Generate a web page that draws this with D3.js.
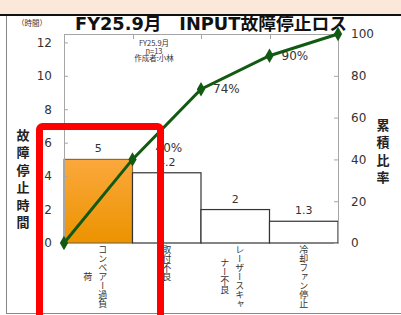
<!doctype html>
<html>
<head>
<meta charset="utf-8">
<style>
body { margin: 0; background: white; }
text { font-family: "DejaVu Sans", "Noto Sans CJK JP", sans-serif; }
.jp { font-family: "Noto Sans CJK JP", sans-serif; }
</style>
<script src="https://cdnjs.cloudflare.com/ajax/libs/d3/7.8.5/d3.min.js"></script>
</head>
<body>
<div id="chart"></div>
<script>
// data
var categories = ["コンベアー過負荷", "取付不良", "レーザースキャナー不良", "冷却ファン停止"];
var hours = [5, 4.2, 2, 1.3];
var leftTicks = [0, 2, 4, 6, 8, 10, 12];
var rightTicks = [0, 20, 40, 60, 80, 100];
var title = "FY25.9月　INPUT故障停止ロス";
var note = ["FY25.9月", "n=13", "作成者:小林"];

var width = 401, height = 315;
var plotL = 64, plotR = 338, plotT = 34, plotB = 243;

var svg = d3.select("#chart").append("svg")
  .attr("width", width).attr("height", height);

// page decoration
svg.append("rect").attr("x", 0).attr("y", 0).attr("width", width).attr("height", 14).attr("fill", "#FBE8D8");
svg.append("rect").attr("x", 0).attr("y", 14).attr("width", width).attr("height", 2).attr("fill", "#111");
svg.append("line").attr("x1", 6.5).attr("x2", 6.5).attr("y1", 16).attr("y2", 313.5).attr("stroke", "#888");
svg.append("line").attr("x1", 6).attr("x2", width).attr("y1", 313.5).attr("y2", 313.5).attr("stroke", "#888");

var total = d3.sum(hours);
var cum = [];
var run = 0;
hours.forEach(function(h) { run += h; cum.push(run / total * 100); });

var x = d3.scaleBand().domain(categories).range([plotL, plotR]).padding(0);
var yL = d3.scaleLinear().domain([0, total]).range([plotB, plotT]);
var yR = d3.scaleLinear().domain([0, 100]).range([plotB, plotT]);

var defs = svg.append("defs");
var grad = defs.append("linearGradient").attr("id", "org").attr("x1", 0).attr("y1", 0).attr("x2", 0).attr("y2", 1);
grad.append("stop").attr("offset", "0%").attr("stop-color", "#FBA83C");
grad.append("stop").attr("offset", "100%").attr("stop-color", "#EC9300");

// top frame line with category ticks
svg.append("line").attr("x1", plotL).attr("x2", plotR).attr("y1", plotT + 0.5).attr("y2", plotT + 0.5).attr("stroke", "#A6A6A6");
svg.selectAll(".ttick").data(categories.slice(1)).enter().append("line")
  .attr("x1", function(d) { return Math.round(x(d)) + 0.5; })
  .attr("x2", function(d) { return Math.round(x(d)) + 0.5; })
  .attr("y1", plotT).attr("y2", plotT + 5).attr("stroke", "#A6A6A6");

// bars
svg.selectAll(".bar").data(hours).enter().append("rect")
  .attr("x", function(d, i) { return x(categories[i]); })
  .attr("y", function(d) { return yL(d); })
  .attr("width", x.bandwidth())
  .attr("height", function(d) { return plotB - yL(d); })
  .attr("fill", function(d, i) { return i == 0 ? "url(#org)" : "white"; })
  .attr("stroke", function(d, i) { return i == 0 ? "#8A6A3A" : "#333"; })
  .attr("stroke-width", 1.2);

svg.selectAll(".blab").data(hours).enter().append("text")
  .attr("x", function(d, i) { return x(categories[i]) + x.bandwidth() / 2; })
  .attr("y", function(d) { return yL(d) - 7; })
  .attr("text-anchor", "middle").attr("font-size", 11).attr("fill", "#333")
  .text(function(d) { return d; });

// axes
var axL = svg.append("g").attr("transform", "translate(" + plotL + ",0)")
  .call(d3.axisLeft(yL).tickValues(leftTicks).tickSize(-4).tickPadding(12));
var axR = svg.append("g").attr("transform", "translate(" + plotR + ",0)")
  .call(d3.axisRight(yR).tickValues(rightTicks).tickSize(-4).tickPadding(13));
[axL, axR].forEach(function(a) {
  a.select(".domain").attr("stroke", "#A6A6A6");
  a.selectAll(".tick line").attr("stroke", "#A6A6A6");
  a.selectAll(".tick text").attr("font-size", 12).attr("fill", "#333").attr("font-family", "DejaVu Sans");
});

// category labels, vertical, 7 chars per column
categories.forEach(function(c, i) {
  var cols = [];
  for (var k = 0; k < c.length; k += 7) cols.push(c.slice(k, k + 7));
  var n = cols.length;
  var blockH = cols[0].length * 9;
  var cx = x(c) + x.bandwidth() / 2;
  cols.forEach(function(s, j) {
    svg.append("text").attr("class", "jp")
      .attr("x", cx + (n - 1) * 4.5 - j * 15)
      .attr("y", 245 + blockH / 2)
      .attr("writing-mode", "vertical-rl")
      .attr("text-anchor", "middle")
      .attr("font-size", 9).attr("fill", "#333")
      .text(s);
  });
});

// cumulative line
var pts = [[plotL, 0]];
cum.forEach(function(v, i) { pts.push([x(categories[i]) + x.bandwidth(), v]); });
svg.append("path").datum(pts)
  .attr("d", d3.line().x(function(d) { return d[0]; }).y(function(d) { return yR(d[1]); }))
  .attr("fill", "none").attr("stroke", "#125A12").attr("stroke-width", 3);
svg.selectAll(".mk").data(pts).enter().append("path")
  .attr("d", d3.symbol().type(d3.symbolDiamond).size(60))
  .attr("transform", function(d) { return "translate(" + d[0] + "," + yR(d[1]) + ")"; })
  .attr("fill", "#125A12");

svg.selectAll(".plab").data(pts.slice(1, pts.length - 1)).enter().append("text")
  .attr("x", function(d, i) { return d[0] + (i == 0 ? 23 : 12); })
  .attr("y", function(d, i) { return yR(d[1]) + (i == 0 ? -12 : 0); })
  .attr("dy", "0.35em").attr("font-size", 12).attr("fill", "#333")
  .text(function(d) { return Math.round(d[1]) + "%"; });

// titles
svg.append("text").attr("x", 75).attr("y", 30)
  .attr("textLength", 272).attr("lengthAdjust", "spacingAndGlyphs")
  .attr("font-size", 17).attr("font-weight", "bold").attr("fill", "#111").text(title);
svg.append("text").attr("class", "jp").attr("x", 32).attr("y", 26).attr("text-anchor", "middle")
  .attr("font-size", 7.5).attr("fill", "#333").text("（時間）");
note.forEach(function(s, i) {
  svg.append("text").attr("class", "jp").attr("x", 154).attr("y", 46 + i * 7.5).attr("text-anchor", "middle")
    .attr("font-size", 7.5).attr("fill", "#333").text(s);
});
"故障停止時間".split("").forEach(function(ch, i) {
  svg.append("text").attr("class", "jp").attr("x", 23).attr("y", 140 + i * 17.4).attr("text-anchor", "middle")
    .attr("font-size", 13).attr("font-weight", "bold").attr("fill", "#222").text(ch);
});
"累積比率".split("").forEach(function(ch, i) {
  svg.append("text").attr("class", "jp").attr("x", 383).attr("y", 130 + i * 17.3).attr("text-anchor", "middle")
    .attr("font-size", 13).attr("font-weight", "bold").attr("fill", "#222").text(ch);
});

// red highlight frame
svg.append("rect").attr("x", 39.5).attr("y", 126.5).attr("width", 121).attr("height", 220).attr("rx", 3)
  .attr("fill", "none").attr("stroke", "#FF0000").attr("stroke-width", 7);
</script>
</body>
</html>
